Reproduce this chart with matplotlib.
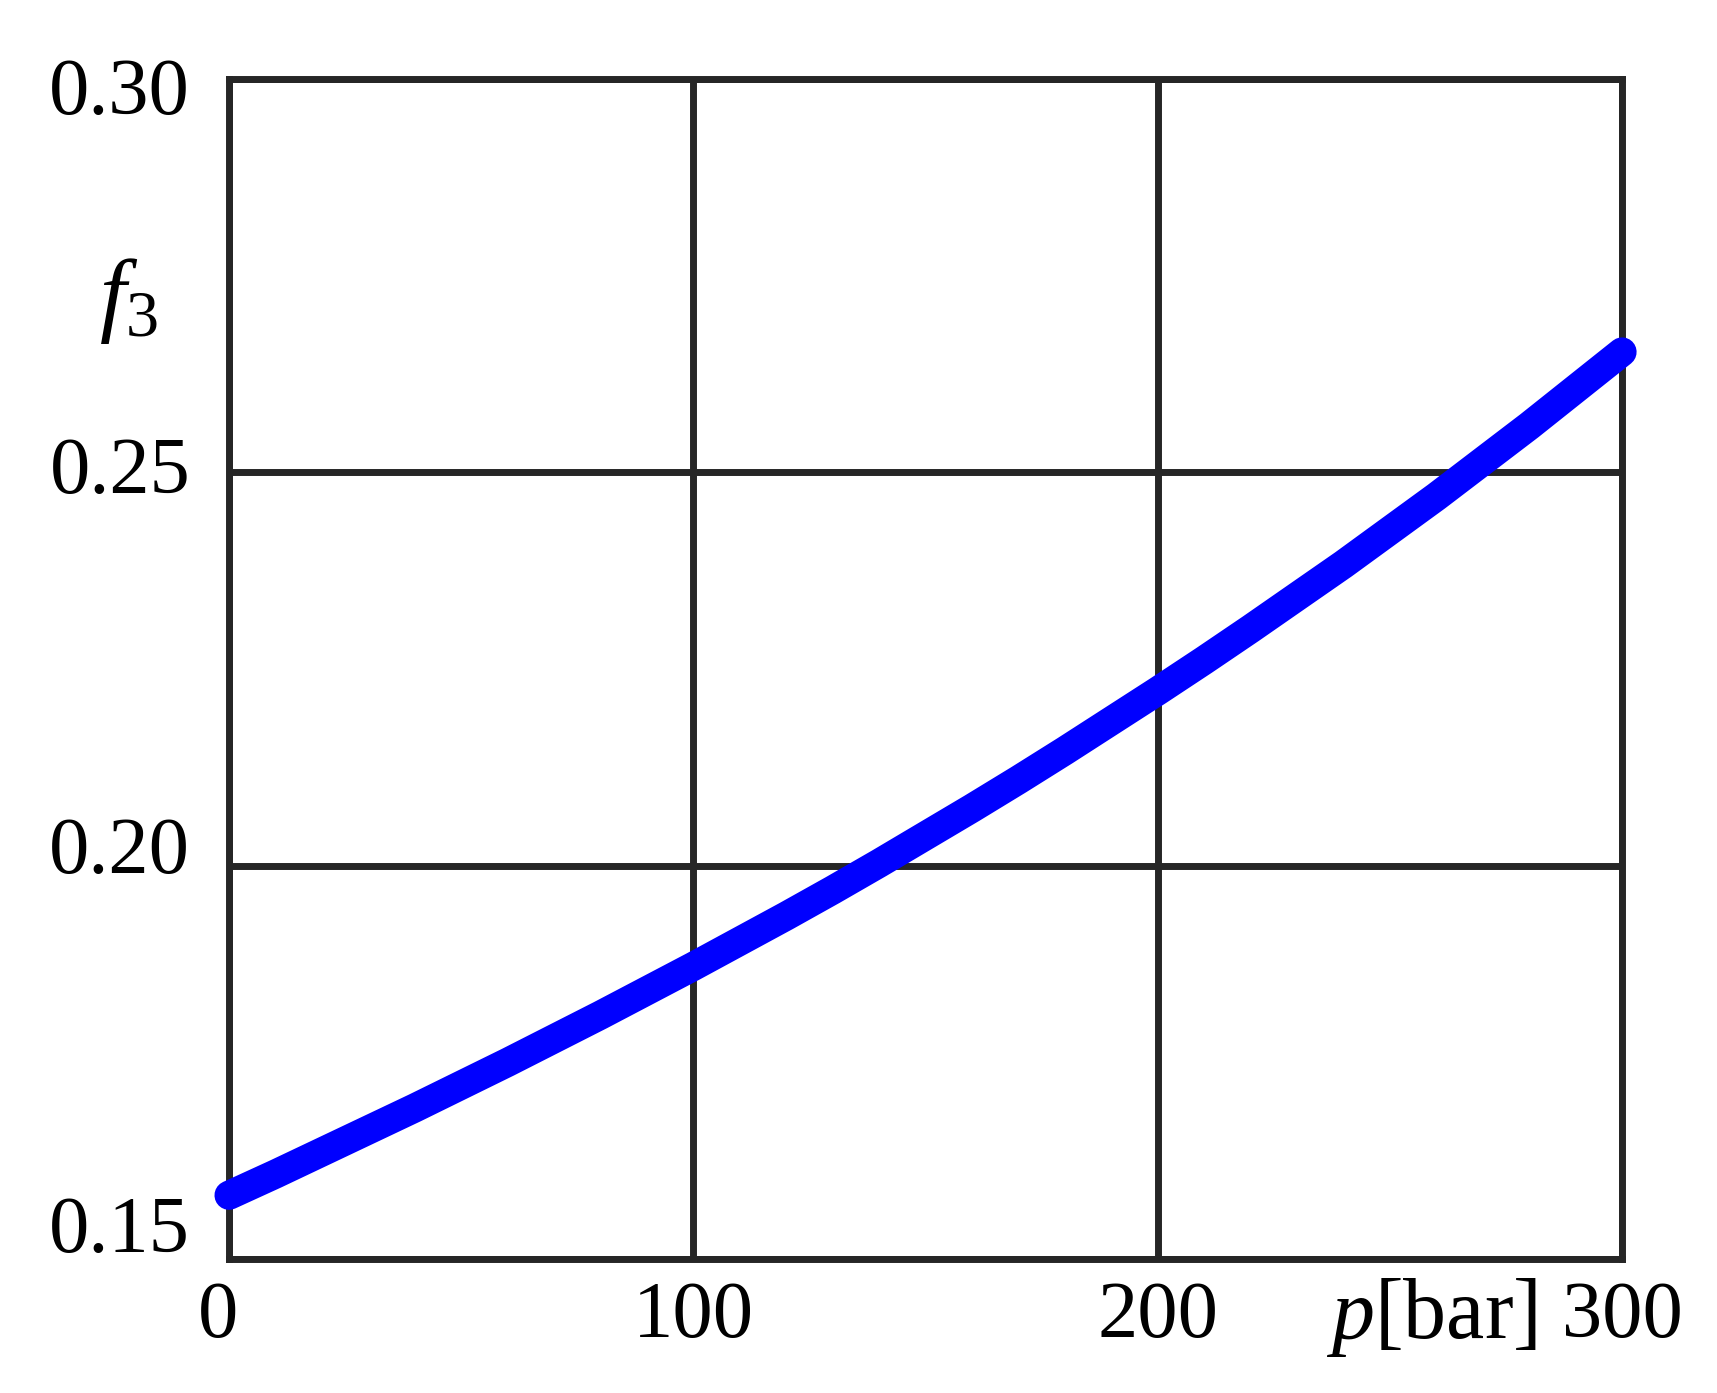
import matplotlib
matplotlib.use('Agg')
import matplotlib.pyplot as plt
from matplotlib.transforms import ScaledTranslation

# pressure p [bar] and f3
pressure = [0, 10, 20, 30, 40, 50, 60, 70, 80, 90, 100, 110, 120, 130, 140, 150,
            160, 170, 180, 190, 200, 210, 220, 230, 240, 250, 260, 270, 280, 290, 300]
f3_values = [0.1581, 0.1608, 0.1636, 0.1664, 0.1692, 0.1721, 0.1750, 0.1780,
             0.1810, 0.1841, 0.1872, 0.1904, 0.1936, 0.1969, 0.2003, 0.2038,
             0.2073, 0.2109, 0.2146, 0.2184, 0.2222, 0.2261, 0.2301, 0.2342,
             0.2383, 0.2426, 0.2469, 0.2514, 0.2559, 0.2606, 0.2653]

x_ticks = [0, 100, 200, 300]
y_ticks = [0.15, 0.20, 0.25, 0.30]
y_tick_labels = ['0.15', '0.20', '0.25', '0.30']

plt.rcParams['font.family'] = ['Liberation Serif', 'DejaVu Serif']
plt.rcParams['mathtext.fontset'] = 'custom'
plt.rcParams['mathtext.it'] = 'Liberation Serif:italic'
plt.rcParams['mathtext.rm'] = 'Liberation Serif'

dark = '#262626'

fig = plt.figure(figsize=(17.17, 13.93), dpi=100)
ax = fig.add_axes([0.1334, 0.0962, 0.8113, 0.8471])

ax.plot(pressure, f3_values, color='#0000ff', lw=21, solid_capstyle='round',
        solid_joinstyle='round', zorder=3, clip_on=False)

ax.set_xlim(0, 300)
ax.set_ylim(0.15, 0.30)
ax.set_xticks(x_ticks)
ax.set_yticks(y_ticks)
ax.set_yticklabels(y_tick_labels)
ax.tick_params(axis='both', length=0, labelsize=58, colors='black')
ax.tick_params(axis='x', pad=16)
ax.tick_params(axis='y', pad=28)

ax.grid(True, color=dark, lw=5)
ax.set_axisbelow(True)
for s in ax.spines.values():
    s.set_color(dark)
    s.set_linewidth(5)

# labels in the original sit a bit off their ticks
y_shift = [25, 14.6, 5.3, -4.8]   # points, 0.15 .. 0.30
for lab, dy in zip(ax.get_yticklabels(), y_shift):
    lab.set_transform(lab.get_transform() + ScaledTranslation(0, dy / 72, fig.dpi_scale_trans))
x0 = ax.get_xticklabels()[0]
x0.set_transform(x0.get_transform() + ScaledTranslation(-8 / 72, 0, fig.dpi_scale_trans))

ax.text(-0.072, 0.812, r'$f_3$', transform=ax.transAxes, fontsize=68,
        ha='center', va='center')
ax.text(259, -0.0669, r'$p$[bar]', fontsize=62, ha='center', va='baseline',
        transform=ax.get_xaxis_transform())

fig.savefig('out.png', dpi=100)
